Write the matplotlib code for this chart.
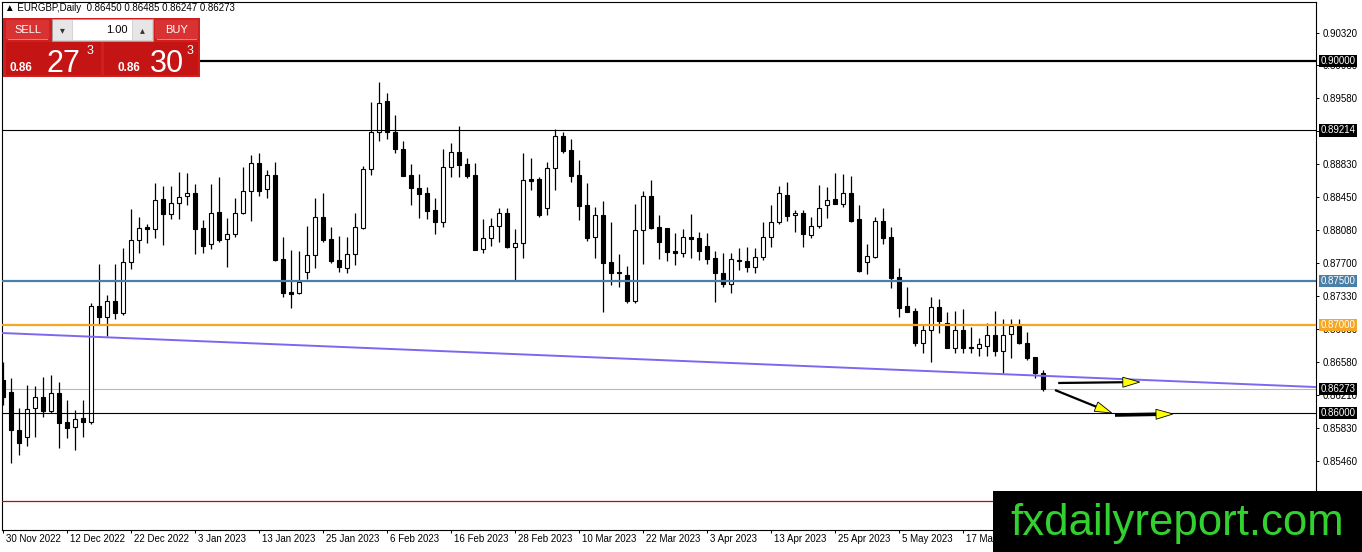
import matplotlib
matplotlib.use('Agg')
import matplotlib.pyplot as plt
from matplotlib.patches import Rectangle, Polygon
from matplotlib.transforms import IdentityTransform
import numpy as np

plt.rcParams['font.family'] = ['Liberation Sans', 'DejaVu Sans']

# ---------------- data ----------------
opens = [0.8638, 0.8624, 0.8581, 0.8573, 0.8606, 0.8618, 0.8602, 0.8623, 0.8590, 0.8584,
         0.8594, 0.8590, 0.8722, 0.8709, 0.8727, 0.8714, 0.8772, 0.8797, 0.8811, 0.8809,
         0.8843, 0.8826, 0.8839, 0.8847, 0.8850, 0.8810, 0.8792, 0.8828, 0.8798, 0.8803,
         0.8827, 0.8852, 0.8884, 0.8855, 0.8870, 0.8775, 0.8738, 0.8736, 0.8760, 0.8780,
         0.8823, 0.8798, 0.8774, 0.8765, 0.8781, 0.8810, 0.8877, 0.8919, 0.8955, 0.8919,
         0.8900, 0.8870, 0.8856, 0.8850, 0.8831, 0.8817, 0.8880, 0.8897, 0.8883, 0.8870,
         0.8786, 0.8799, 0.8813, 0.8827, 0.8789, 0.8793, 0.8866, 0.8866, 0.8833, 0.8878,
         0.8915, 0.8899, 0.8870, 0.8836, 0.8800, 0.8825, 0.8772, 0.8760, 0.8757, 0.8727,
         0.8808, 0.8847, 0.8811, 0.8810, 0.8784, 0.8782, 0.8800, 0.8799, 0.8790, 0.8776,
         0.8759, 0.8747, 0.8774, 0.8773, 0.8766, 0.8777, 0.8800, 0.8817, 0.8848, 0.8825,
         0.8827, 0.8802, 0.8813, 0.8836, 0.8843, 0.8837, 0.8850, 0.8820, 0.8772, 0.8777,
         0.8818, 0.8800, 0.8755, 0.8722, 0.8716, 0.8680, 0.8694, 0.8721, 0.8702, 0.8674,
         0.8694, 0.8675, 0.8674, 0.8676, 0.8689, 0.8670, 0.8690, 0.8699, 0.8680, 0.8664,
         0.86450]
highs = [0.8658, 0.8640, 0.8606, 0.8632, 0.8631, 0.8641, 0.8643, 0.8635, 0.8615, 0.8603,
         0.8615, 0.8725, 0.8769, 0.8734, 0.8769, 0.8788, 0.8832, 0.8823, 0.8815, 0.8861,
         0.8858, 0.8858, 0.8874, 0.8873, 0.8860, 0.8819, 0.8860, 0.8868, 0.8822, 0.8844,
         0.8880, 0.8893, 0.8896, 0.8876, 0.8885, 0.8800, 0.8785, 0.8784, 0.8813, 0.8844,
         0.8850, 0.8811, 0.8801, 0.8800, 0.8827, 0.8881, 0.8953, 0.8976, 0.8964, 0.8939,
         0.8909, 0.8883, 0.8872, 0.8857, 0.8844, 0.8900, 0.8907, 0.8926, 0.8890, 0.8884,
         0.8820, 0.8822, 0.8833, 0.8833, 0.8809, 0.8896, 0.8890, 0.8868, 0.8885, 0.8923,
         0.8919, 0.8911, 0.8888, 0.8861, 0.8834, 0.8841, 0.8817, 0.8781, 0.8767, 0.8837,
         0.8852, 0.8865, 0.8825, 0.8810, 0.8805, 0.8809, 0.8826, 0.8806, 0.8805, 0.8784,
         0.8782, 0.8782, 0.8788, 0.8789, 0.8788, 0.8817, 0.8836, 0.8858, 0.8863, 0.8831,
         0.8831, 0.8823, 0.8859, 0.8857, 0.8873, 0.8872, 0.8869, 0.8836, 0.8792, 0.8823,
         0.8833, 0.8811, 0.8765, 0.8743, 0.8719, 0.8700, 0.8732, 0.8730, 0.8715, 0.8716,
         0.8718, 0.8698, 0.8685, 0.8702, 0.8716, 0.8707, 0.8707, 0.8707, 0.8692, 0.8664,
         0.86485]
lows = [0.8609, 0.8543, 0.8552, 0.8563, 0.8573, 0.8595, 0.8600, 0.8560, 0.8572, 0.8558,
        0.8573, 0.8588, 0.8700, 0.8688, 0.8707, 0.8711, 0.8764, 0.8782, 0.8793, 0.8799,
        0.8791, 0.8820, 0.8820, 0.8836, 0.8781, 0.8782, 0.8786, 0.8794, 0.8766, 0.8800,
        0.8826, 0.8818, 0.8847, 0.8844, 0.8773, 0.8732, 0.8719, 0.8735, 0.8752, 0.8765,
        0.8794, 0.8771, 0.8760, 0.8759, 0.8768, 0.8809, 0.8870, 0.8909, 0.8911, 0.8896,
        0.8869, 0.8836, 0.8822, 0.8820, 0.8803, 0.8811, 0.8868, 0.8868, 0.8867, 0.8785,
        0.8782, 0.8790, 0.8794, 0.8788, 0.8751, 0.8776, 0.8853, 0.8823, 0.8825, 0.8853,
        0.8896, 0.8863, 0.8819, 0.8795, 0.8776, 0.8715, 0.8745, 0.8743, 0.8725, 0.8725,
        0.8769, 0.8809, 0.8775, 0.8773, 0.8768, 0.8777, 0.8776, 0.8774, 0.8769, 0.8726,
        0.8743, 0.8736, 0.8763, 0.8760, 0.8759, 0.8774, 0.8789, 0.8815, 0.8818, 0.8806,
        0.8789, 0.8799, 0.8810, 0.8822, 0.8837, 0.8834, 0.8817, 0.8760, 0.8758, 0.8776,
        0.8792, 0.8742, 0.8709, 0.8715, 0.8676, 0.8668, 0.8658, 0.8691, 0.8674, 0.8668,
        0.8668, 0.8668, 0.8665, 0.8665, 0.8665, 0.8645, 0.8663, 0.8678, 0.8660, 0.8640,
        0.86247]
closes = [0.8618, 0.8581, 0.8566, 0.8605, 0.8618, 0.8602, 0.8623, 0.8589, 0.8583, 0.8593,
          0.8590, 0.8722, 0.8709, 0.8727, 0.8714, 0.8772, 0.8797, 0.8810, 0.8809, 0.8842,
          0.8826, 0.8839, 0.8845, 0.8850, 0.8809, 0.8790, 0.8827, 0.8797, 0.8803, 0.8827,
          0.8852, 0.8884, 0.8852, 0.8870, 0.8774, 0.8736, 0.8735, 0.8749, 0.8780, 0.8823,
          0.8797, 0.8773, 0.8766, 0.8781, 0.8811, 0.8877, 0.8919, 0.8952, 0.8919, 0.8900,
          0.8869, 0.8856, 0.8849, 0.8830, 0.8817, 0.8880, 0.8897, 0.8882, 0.8869, 0.8785,
          0.8799, 0.8813, 0.8827, 0.8789, 0.8793, 0.8865, 0.8864, 0.8825, 0.8878, 0.8915,
          0.8898, 0.8869, 0.8835, 0.8799, 0.8825, 0.8771, 0.8759, 0.8759, 0.8727, 0.8808,
          0.8847, 0.8810, 0.8794, 0.8783, 0.8782, 0.8800, 0.8798, 0.8784, 0.8775, 0.8759,
          0.8747, 0.8775, 0.8773, 0.8766, 0.8777, 0.8800, 0.8817, 0.8850, 0.8824, 0.8827,
          0.8803, 0.8813, 0.8833, 0.8842, 0.8837, 0.8850, 0.8818, 0.8761, 0.8778, 0.8818,
          0.8799, 0.8753, 0.8719, 0.8715, 0.8680, 0.8694, 0.8721, 0.8705, 0.8674, 0.8694,
          0.8674, 0.8674, 0.8678, 0.8689, 0.8670, 0.8689, 0.8699, 0.8680, 0.8663, 0.8645,
          0.86273]

date_labels = ['30 Nov 2022', '12 Dec 2022', '22 Dec 2022', '3 Jan 2023', '13 Jan 2023',
               '25 Jan 2023', '6 Feb 2023', '16 Feb 2023', '28 Feb 2023', '10 Mar 2023',
               '22 Mar 2023', '3 Apr 2023', '13 Apr 2023', '25 Apr 2023', '5 May 2023',
               '17 May 2023']
date_label_bars = [0, 8, 16, 24, 32, 40, 48, 56, 64, 72, 80, 88, 96, 104, 112, 120]

price_ticks = [0.90320, 0.89950, 0.89580, 0.89210, 0.88830, 0.88450, 0.88080, 0.87700,
               0.87330, 0.86950, 0.86580, 0.86210, 0.85830, 0.85460]

levels = [0.90000, 0.89214, 0.87500, 0.87000, 0.86000, 0.85000]
level_colors = ['black', 'black', '#4a7fa8', '#f5a623', 'black', '#d40000']
level_widths = [1.6, 0.8, 1.6, 1.6, 0.8, 0.9]
level_boxes = [True, True, True, True, True, False]

bid_price = 0.86273
trend_x = [-0.125, 164.125]
trend_y = [0.86909, 0.86295]

arrows = [  # (x0, y0, x1, y1, line width)
    (131.9, 0.86341, 142.1, 0.86352, 1.6),
    (131.5, 0.86261, 138.6, 0.86000, 1.6),
    (139.0, 0.85977, 146.25, 0.85989, 2.6),
]

# ---------------- figure ----------------
W, H = 1362, 552
fig = plt.figure(figsize=(W / 100, H / 100), dpi=100)
fig.patch.set_facecolor('white')

AX_L, AX_R, AX_T, AX_B = 2, 1316, 2, 530
ax = fig.add_axes([AX_L / W, 1 - AX_B / H, (AX_R - AX_L) / W, (AX_B - AX_T) / H])
ax.set_facecolor('white')
ax.set_xlim(-0.125, 164.125)
ax.set_ylim(0.846705, 0.906705)

o = np.array(opens); h = np.array(highs); l = np.array(lows); c = np.array(closes)
idx = np.arange(len(o))
up = c >= o
ax.vlines(idx, l, h, color='black', lw=0.9, zorder=3)
ax.bar(idx, np.abs(c - o), bottom=np.minimum(o, c), width=0.55,
       color=np.where(up, 'white', 'black'), edgecolor='black', linewidth=0.8, zorder=4)

# horizontal levels
for lev, col, lw in zip(levels, level_colors, level_widths):
    ax.axhline(lev, color=col, lw=lw, zorder=5)
ax.axhline(bid_price, color='#b8b8b8', lw=0.8, zorder=2)
ax.plot(trend_x, trend_y, color='#7b68ee', lw=1.4, zorder=5)

# arrows
fig.canvas.draw()
for (x0, y0, x1, y1, lw) in arrows:
    p0 = ax.transData.transform((x0, y0))
    p1 = ax.transData.transform((x1, y1))
    d = p1 - p0
    L = np.hypot(*d)
    u = d / L
    n = np.array([-u[1], u[0]])
    hl, hw = 17, 5
    base = p1 - u * hl
    end = ax.transData.inverted().transform(base + u * 2)
    ax.plot([x0, end[0]], [y0, end[1]],
            color='black', lw=lw, zorder=6, solid_capstyle='butt')
    tri = np.array([p1, base + n * hw, base - n * hw])
    fig.add_artist(Polygon(tri, closed=True, transform=IdentityTransform(),
                           facecolor='#ffff00', edgecolor='black', lw=0.6, zorder=7))

# spines / axes
for s in ax.spines.values():
    s.set_color('black'); s.set_linewidth(0.8)
ax.yaxis.tick_right()
ax.set_yticks(price_ticks)
ax.set_yticklabels([f'{p:.5f}' for p in price_ticks])
ax.tick_params(axis='y', direction='out', length=2.5, width=0.7, labelsize=7, pad=2.5)
ax.set_xticks(date_label_bars)
ax.set_xticklabels([''] * len(date_label_bars))
ax.tick_params(axis='x', direction='out', length=2.5, width=0.7)
for pos, lab in zip(date_label_bars, date_labels):
    ax.annotate(lab, xy=(pos, 0), xycoords=('data', 'axes fraction'), xytext=(2.5, -3),
                textcoords='offset points', ha='left', va='top', fontsize=7,
                annotation_clip=False)

# price boxes on right axis
for lev, col, show in zip(levels, level_colors, level_boxes):
    if not show:
        continue
    ax.annotate(f'{lev:.5f}', xy=(1, lev), xycoords=('axes fraction', 'data'),
                xytext=(3.5, 0), textcoords='offset points', ha='left', va='center',
                fontsize=7, color='white', annotation_clip=False, zorder=12,
                bbox=dict(boxstyle='square,pad=0.15', fc=col, ec='none'))
ax.annotate(f'{bid_price:.5f}', xy=(1, bid_price), xycoords=('axes fraction', 'data'),
            xytext=(3.5, 0), textcoords='offset points', ha='left', va='center',
            fontsize=7, color='white', annotation_clip=False, zorder=12,
            bbox=dict(boxstyle='square,pad=0.15', fc='black', ec='none'))

# ---------------- overlays in pixel coords ----------------
def R(x0, y0, x1, y1, **kw):
    r = Rectangle((x0 / W, 1 - y1 / H), (x1 - x0) / W, (y1 - y0) / H,
                  transform=fig.transFigure, **kw)
    fig.add_artist(r)
    return r

def T(x, y, s, **kw):
    fig.text(x / W, 1 - y / H, s, **kw)

# header
T(5, 8, '▲ EURGBP,Daily  0.86450 0.86485 0.86247 0.86273', fontsize=7, va='center',
  ha='left', zorder=20)

# trade panel
red = '#cf1f1f'
R(3, 18, 200, 77, fc=red, ec='none', zorder=10)
R(6, 20, 49, 39, fc='#d83232', ec='none', zorder=11)
R(8, 39, 48, 40, fc='#f08080', ec='none', zorder=11)
R(155, 20, 198, 39, fc='#d83232', ec='none', zorder=11)
R(157, 39, 197, 40, fc='#f08080', ec='none', zorder=11)
T(27.5, 30, 'SELL', fontsize=8, color='white', ha='center', va='center', zorder=13)
T(176.5, 30, 'BUY', fontsize=8, color='white', ha='center', va='center', zorder=13)
R(52, 19, 153, 41, fc='#d4d4d4', ec='#a0a0a0', lw=0.6, zorder=11)
R(53, 20, 72, 40, fc='#e6e6e6', ec='none', zorder=12)
R(73, 20, 132, 40, fc='white', ec='none', zorder=12)
R(133, 20, 152, 40, fc='#e6e6e6', ec='none', zorder=12)
T(62.5, 30, '▾', fontsize=7, color='#333333', ha='center', va='center', zorder=13)
T(142.5, 30, '▴', fontsize=7, color='#333333', ha='center', va='center', zorder=13)
T(128, 30, '1.00', fontsize=8, color='black', ha='right', va='center', zorder=13)
R(6, 42, 101, 75, fc='#c41414', ec='none', zorder=11)
R(104, 42, 198, 75, fc='#c41414', ec='none', zorder=11)
T(10, 71, '0.86', fontsize=8.5, fontweight='bold', color='white', ha='left',
  va='baseline', zorder=13)
T(47, 72, '27', fontsize=22, color='white', ha='left', va='baseline', zorder=13)
T(87, 54, '3', fontsize=9, color='white', ha='left', va='baseline', zorder=13)
T(117, 71, '0.86', fontsize=8.5, fontweight='bold', color='white', ha='left',
  va='baseline', zorder=13)
T(150, 72, '30', fontsize=22, color='white', ha='left', va='baseline', zorder=13)
T(187, 54, '3', fontsize=9, color='white', ha='left', va='baseline', zorder=13)

# watermark
R(993, 491, 1362, 552, fc='black', ec='none', zorder=15)
T(1177, 535, 'fxdailyreport.com', fontsize=31.5, color='#33d12f', ha='center',
  va='baseline', zorder=16)

fig.savefig('out.png', dpi=100, facecolor='white')
